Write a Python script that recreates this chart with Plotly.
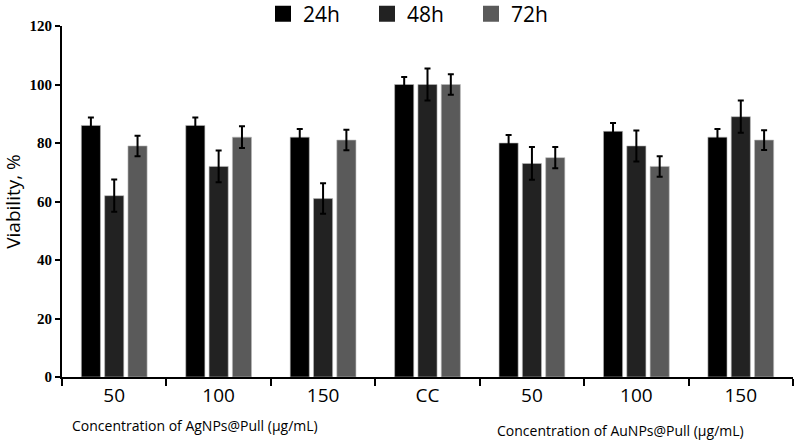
import plotly.graph_objects as go

categories = ["Ag50", "Ag100", "Ag150", "CC", "Au50", "Au100", "Au150"]
tick_labels = ["50", "100", "150", "CC", "50", "100", "150"]
series_names = ["24h", "48h", "72h"]
v24 = [86, 86, 82, 100, 80, 84, 82]
v48 = [62, 72, 61, 100, 73, 79, 89]
v72 = [79, 82, 81, 100, 75, 72, 81]
e24 = [2.7, 2.7, 2.8, 2.6, 2.7, 2.8, 2.8]
e48 = [5.5, 5.4, 5.2, 5.5, 5.6, 5.3, 5.5]
e72 = [3.5, 3.7, 3.5, 3.5, 3.6, 3.5, 3.4]
colors = ["#000000", "#222222", "#5a5a5a"]

W, H = 800, 442
L, R, T, B = 62, 7, 0, 65
TOP_AXIS = 26  # pixel row of the y=120 line
PW, PH = W - L - R, H - T - B


def px(x):
    return (x - L) / PW


def py(y):
    return (H - B - y) / PH


fig = go.Figure()
for name, vals, errs, col in zip(series_names, [v24, v48, v72], [e24, e48, e72], colors):
    fig.add_trace(go.Bar(
        x=categories, y=vals, name=name, showlegend=False,
        marker=dict(color=col, line=dict(color="#bbbbbb", width=0.6)),
        error_y=dict(type="data", array=errs, color="#000000", thickness=2, width=3),
    ))
    fig.add_trace(go.Scatter(
        x=[None], y=[None], name=name, mode="markers",
        marker=dict(symbol="square", size=17, color=col),
    ))

fig.update_layout(
    width=W, height=H,
    margin=dict(l=L, r=R, t=T, b=B, autoexpand=False),
    plot_bgcolor="white", paper_bgcolor="white",
    barmode="group", bargap=0.33, bargroupgap=0.18,
    font=dict(family="Open Sans", color="#000000"),
    legend=dict(orientation="h", x=px(263), xanchor="left",
                y=py(14), yanchor="middle", entrywidth=59,
                font=dict(size=21, family="Open Sans"),
                bgcolor="rgba(0,0,0,0)"),
    xaxis=dict(
        type="category", tickvals=categories, ticktext=tick_labels,
        tickson="boundaries", ticks="outside", ticklen=7, tickwidth=1.5,
        tickcolor="#000", showline=True, linecolor="#000", linewidth=2,
        tickfont=dict(size=19, family="Open Sans"), showgrid=False,
        range=[-0.5, 6.5], automargin=False,
    ),
    yaxis=dict(
        domain=[0, py(TOP_AXIS)],
        range=[0, 120], dtick=20, ticks="outside", ticklen=5, tickwidth=1.5,
        tickcolor="#000", showline=True, linecolor="#000", linewidth=2,
        showgrid=False, zeroline=False, automargin=False,
        tickfont=dict(size=15, family="Liberation Serif", weight="bold"),
        title=dict(text="Viability, %", font=dict(size=19, family="Open Sans"), standoff=6),
    ),
    annotations=[
        dict(text="Concentration of AgNPs@Pull (μg/mL)", x=px(195), y=py(425),
             xref="paper", yref="paper", xanchor="center", yanchor="middle",
             showarrow=False, font=dict(size=14, family="Open Sans")),
        dict(text="Concentration of AuNPs@Pull (μg/mL)", x=px(620), y=py(430),
             xref="paper", yref="paper", xanchor="center", yanchor="middle",
             showarrow=False, font=dict(size=14, family="Open Sans")),
    ],
)

fig.write_html("out.html", config={"displayModeBar": False},
               post_script="document.body.style.margin='0';")
